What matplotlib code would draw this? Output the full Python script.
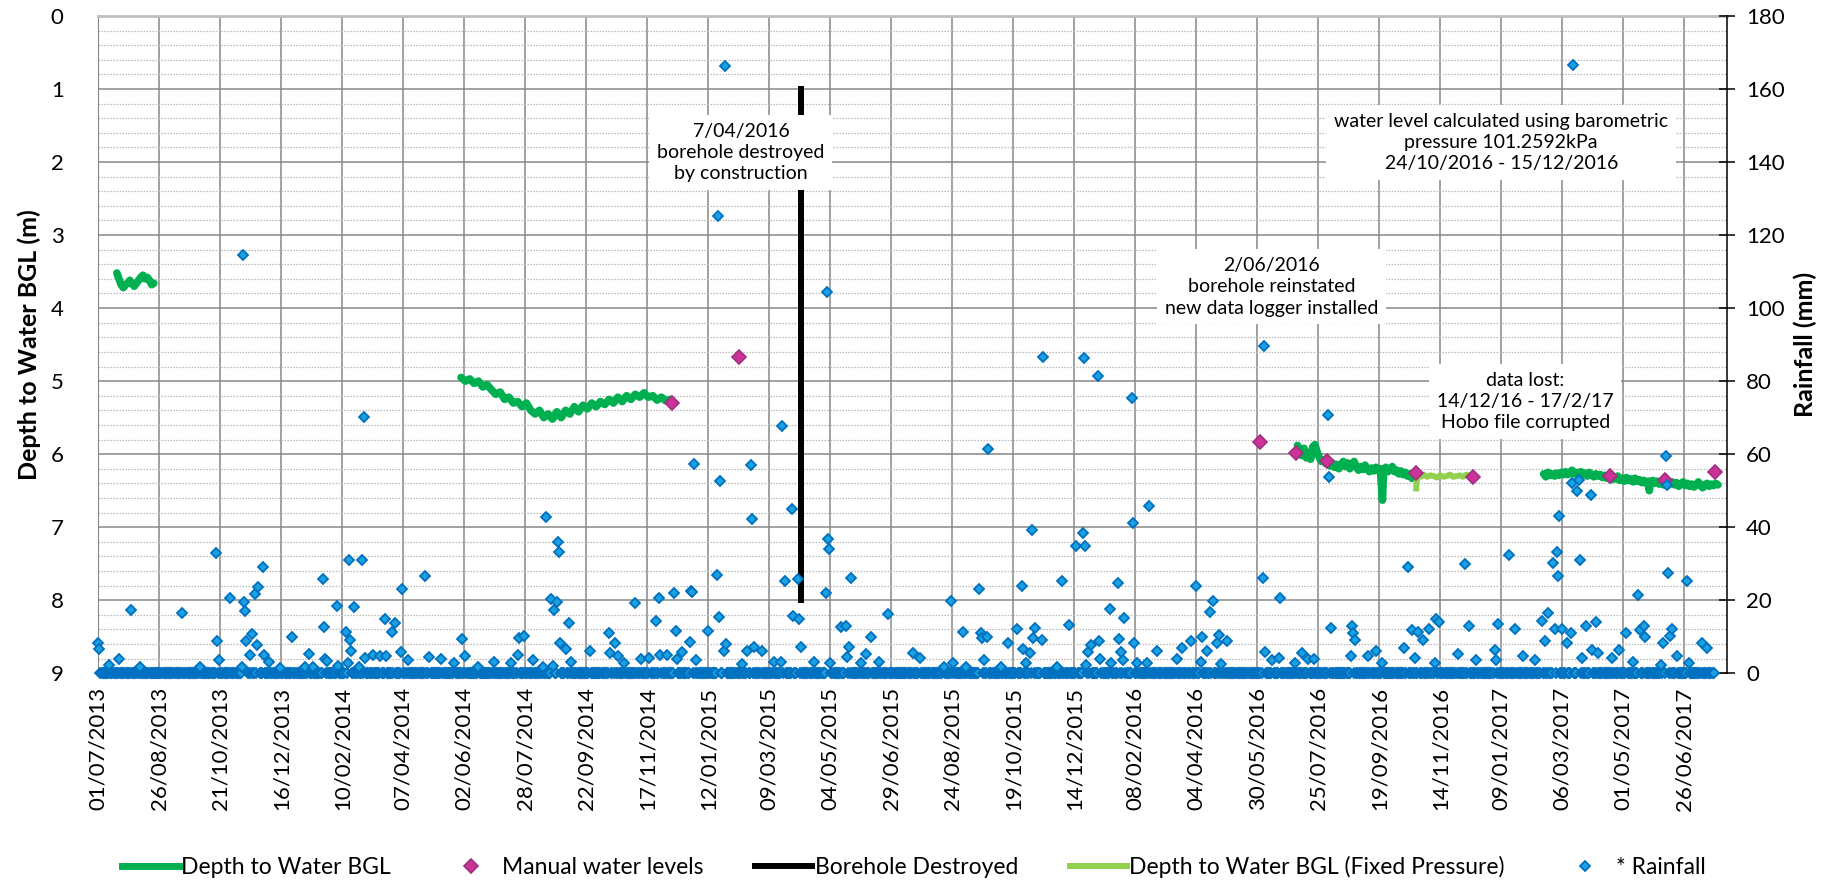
import numpy as np
import matplotlib.pyplot as plt
import matplotlib.dates as mdates
from matplotlib.lines import Line2D
from matplotlib.ticker import MultipleLocator

plt.rcParams['font.family'] = ['Lato', 'DejaVu Sans']

# all days are counted from the first day of the record
start = np.datetime64('2013-07-01')
axis_end_day = 1495
tick_step = 56
last_tick_day = 1456

# daily rainfall (mm); days not listed here were dry
rain_last_day = 1483
rain_wet_day = [
    0, 1, 10, 19, 30, 38, 77, 93, 108, 109, 111, 121, 132, 133, 134, 135, 136,
    139, 141, 144, 146, 147, 151, 152, 157, 167, 178, 190, 193, 197, 206, 207,
    208, 210, 219, 220, 227, 229, 230, 231, 232, 235, 239, 242, 244, 245, 252,
    259, 263, 264, 270, 272, 278, 279, 284, 300, 304, 315, 327, 334, 337, 349,
    363, 379, 385, 386, 391, 399, 408, 411, 416, 417, 418, 421, 422, 423, 424,
    429, 432, 434, 451, 469, 470, 474, 477, 483, 493, 498, 506, 512, 515, 516,
    522, 529, 530, 531, 536, 543, 544, 545, 547, 549, 560, 568, 569, 570, 571,
    574, 575, 576, 591, 596, 599, 600, 602, 609, 620, 627, 628, 630, 637, 638,
    642, 643, 645, 657, 668, 669, 670, 671, 672, 682, 686, 687, 689, 691, 700,
    705, 709, 717, 725, 748, 754, 776, 783, 785, 794, 797, 809, 810, 811, 813,
    816, 817, 829, 835, 843, 848, 849, 852, 855, 857, 858, 860, 866, 867, 880,
    885, 891, 898, 904, 905, 906, 907, 909, 911, 918, 919, 920, 929, 930, 936,
    937, 939, 941, 942, 949, 950, 951, 954, 963, 965, 972, 990, 995, 1003,
    1008, 1012, 1013, 1018, 1021, 1023, 1027, 1029, 1031, 1036, 1069, 1070,
    1071, 1078, 1084, 1085, 1099, 1105, 1111, 1116, 1129, 1130, 1132, 1150,
    1151, 1152, 1154, 1166, 1173, 1179, 1199, 1202, 1206, 1209, 1212, 1216,
    1222, 1227, 1228, 1231, 1248, 1255, 1258, 1265, 1282, 1283, 1285, 1295,
    1301, 1308, 1319, 1325, 1328, 1331, 1336, 1337, 1339, 1340, 1341, 1344,
    1348, 1352, 1353, 1354, 1358, 1359, 1360, 1362, 1366, 1370, 1371, 1375,
    1377, 1390, 1396, 1403, 1409, 1414, 1415, 1419, 1420, 1435, 1437, 1439,
    1440, 1441, 1443, 1445, 1449, 1459, 1460, 1472, 1477,
]
rain_wet_mm = [
    8.4, 6.6, 2.3, 3.9, 17.3, 1.6, 16.4, 1.6, 32.9, 8.7, 3.6, 20.5, 1.8, 114.6, 19.5, 17.1, 8.9,
    4.9, 10.7, 21.6, 7.8, 23.7, 29.0, 5.1, 3.0, 1.4, 9.9, 1.8, 5.2, 1.8, 25.9, 12.7,
    3.9, 3.3, 18.3, 2.1, 11.4, 2.7, 31.1, 9.0, 6.2, 18.1, 1.8, 31.1, 70.2, 4.1, 4.9,
    4.6, 14.9, 4.6, 11.2, 13.7, 5.9, 23.1, 3.6, 26.7, 4.4, 3.9, 2.7, 9.4, 4.6, 1.8,
    3.2, 2.7, 5.0, 9.6, 10.2, 3.7, 1.8, 42.9, 20.3, 2.0, 17.2, 19.6, 35.9, 33.2, 8.2,
    6.6, 13.7, 3.0, 6.1, 11.0, 5.5, 8.2, 4.6, 2.9, 19.2, 3.9, 4.1, 14.4, 20.5, 5.0,
    5.0, 21.9, 11.7, 3.8, 5.8, 8.5, 22.6, 22.2, 57.3, 3.5, 11.7, 26.9, 125.3, 15.3, 52.7,
    6.1, 166.2, 8.0, 2.6, 6.2, 57.1, 42.2, 7.3, 6.1, 3.0, 3.0, 67.8, 25.3, 45.0, 15.7,
    25.8, 14.9, 7.1, 3.0, 21.9, 104.3, 36.7, 34.0, 2.7, 12.6, 13.0, 4.4, 7.3, 26.0, 2.9,
    5.3, 10.0, 3.0, 16.3, 5.5, 4.3, 1.8, 19.8, 2.7, 11.4, 1.8, 23.1, 11.1, 9.6, 3.7,
    9.9, 61.4, 1.8, 8.4, 12.1, 23.9, 6.6, 2.7, 5.5, 39.3, 9.6, 12.3, 9.1, 86.6, 1.8,
    25.3, 13.1, 34.9, 38.4, 86.3, 34.9, 2.3, 5.7, 7.8, 81.5, 8.9, 3.8, 17.5, 2.7, 24.7,
    9.3, 5.9, 3.7, 15.1, 75.3, 41.1, 8.4, 2.9, 2.9, 45.7, 6.1, 3.9, 6.8, 8.7,
    23.9, 3.0, 10.0, 6.1, 16.7, 19.8, 8.4, 10.5, 2.5, 8.9, 26.2, 89.7,
    5.7, 3.5, 4.1, 20.5, 2.7, 5.5, 3.8, 3.8, 70.8, 53.7, 12.3, 4.6,
    13.0, 11.1, 9.1, 4.6, 6.2, 2.7, 7.0, 29.2, 11.9, 4.1, 11.4, 9.0,
    12.1, 2.7, 14.8, 14.0, 5.2, 29.9, 13.0, 3.5, 6.4, 3.7, 13.5, 32.4,
    12.1, 4.6, 3.5, 14.2, 8.7, 16.4, 30.1, 12.1, 33.1, 26.7, 43.1, 12.1,
    8.4, 11.1, 52.1, 166.5, 49.8, 53.0, 31.1, 4.1, 13.0, 48.9, 6.4, 14.0,
    5.5, 4.1, 6.4, 11.0, 3.2, 21.3, 11.9, 13.0, 10.0, 2.3, 8.4, 59.4,
    51.6, 27.4, 10.2, 12.1, 4.6, 25.3, 2.9, 8.4, 6.8,
]

# logger depth to water (m below ground level)
logger1_day = [17, 19, 21, 23, 25, 27, 29, 31, 33, 35, 37, 39, 41, 43, 45, 47, 49, 51]
logger1_depth = [3.52, 3.60, 3.68, 3.72, 3.68, 3.66, 3.62, 3.67, 3.70, 3.66, 3.62, 3.58,
                 3.55, 3.60, 3.58, 3.62, 3.68, 3.66]

logger2_day = [333, 337, 341, 345, 349, 353, 357, 361, 365, 369, 373, 377, 381, 385, 389,
               393, 397, 401, 405, 409, 413, 417, 421, 425, 429, 433, 437, 441, 445, 449,
               453, 457, 461, 465, 469, 473, 477, 481, 485, 489, 493, 497, 501, 505, 509,
               513, 517, 521, 525, 527]
logger2_depth = [4.95, 5.00, 4.97, 5.03, 5.00, 5.08, 5.05, 5.12, 5.18, 5.15, 5.25, 5.22, 5.30,
                 5.28, 5.35, 5.30, 5.40, 5.45, 5.40, 5.50, 5.45, 5.52, 5.42, 5.50, 5.40, 5.45,
                 5.35, 5.42, 5.33, 5.38, 5.30, 5.35, 5.28, 5.32, 5.25, 5.30, 5.22, 5.28, 5.20,
                 5.25, 5.18, 5.22, 5.16, 5.22, 5.20, 5.26, 5.22, 5.27, 5.25, 5.28]

logger3_day = [1101, 1103, 1105, 1107, 1109, 1111, 1113, 1115, 1117, 1119, 1121, 1123, 1125,
               1127, 1129, 1131, 1133, 1135, 1137, 1139, 1141, 1143, 1145, 1147, 1149, 1151,
               1153, 1155, 1157, 1159, 1161, 1163, 1165, 1167, 1169, 1171, 1173, 1175, 1177,
               1179, 1180, 1182, 1184, 1186, 1188, 1190, 1192, 1194, 1196, 1198, 1200, 1202,
               1204, 1206, 1208]
logger3_depth = [5.88, 5.95, 6.02, 5.92, 6.05, 5.98, 6.07, 5.90, 5.87, 5.97, 6.05, 6.10, 6.08,
                 6.13, 6.10, 6.16, 6.12, 6.18, 6.14, 6.20, 6.15, 6.10, 6.17, 6.12, 6.20, 6.14,
                 6.10, 6.18, 6.22, 6.17, 6.21, 6.15, 6.20, 6.24, 6.19, 6.23, 6.18, 6.22, 6.20,
                 6.63, 6.22, 6.18, 6.24, 6.20, 6.17, 6.24, 6.22, 6.27, 6.23, 6.28, 6.25, 6.30,
                 6.27, 6.33, 6.29]

logger4_day = [1327, 1329, 1331, 1333, 1335, 1337, 1339, 1341, 1343, 1345, 1347, 1349, 1351,
               1353, 1355, 1357, 1359, 1361, 1363, 1365, 1367, 1369, 1371, 1373, 1375, 1377,
               1379, 1381, 1383, 1385, 1387, 1389, 1391, 1393, 1395, 1397, 1399, 1401, 1403,
               1405, 1407, 1409, 1411, 1413, 1415, 1417, 1419, 1421, 1423, 1424, 1425, 1427,
               1429, 1431, 1433, 1435, 1437, 1439, 1441, 1443, 1445, 1447, 1449, 1451, 1453,
               1455, 1457, 1459, 1461, 1463, 1465, 1467, 1469, 1471, 1473, 1475, 1477, 1479,
               1481, 1483, 1485, 1487]
logger4_depth = [6.27, 6.31, 6.25, 6.29, 6.27, 6.30, 6.26, 6.29, 6.25, 6.28, 6.24, 6.28, 6.26,
                 6.22, 6.27, 6.25, 6.29, 6.24, 6.28, 6.26, 6.30, 6.25, 6.28, 6.31, 6.27, 6.30,
                 6.28, 6.32, 6.29, 6.33, 6.30, 6.35, 6.31, 6.34, 6.30, 6.36, 6.33, 6.37, 6.32,
                 6.36, 6.34, 6.38, 6.33, 6.37, 6.35, 6.39, 6.36, 6.40, 6.37, 6.50, 6.38, 6.36,
                 6.40, 6.37, 6.41, 6.38, 6.42, 6.39, 6.43, 6.40, 6.38, 6.42, 6.39, 6.44, 6.41,
                 6.38, 6.43, 6.40, 6.44, 6.41, 6.45, 6.42, 6.38, 6.43, 6.46, 6.42, 6.40, 6.44,
                 6.41, 6.43, 6.40, 6.42]

# logger record recomputed with a fixed barometric pressure
fixed_day = [1210, 1211, 1214, 1217, 1220, 1223, 1226, 1229, 1232, 1235, 1238, 1241, 1244,
             1247, 1250, 1253, 1256, 1259, 1262]
fixed_depth = [6.47, 6.29, 6.31, 6.28, 6.31, 6.29, 6.30, 6.32, 6.29, 6.31, 6.30, 6.28, 6.31,
               6.30, 6.29, 6.31, 6.28, 6.30, 6.29]

manual_day = [527, 588, 1067, 1100, 1128, 1210, 1262, 1388, 1438, 1484]
manual_depth = [5.30, 4.67, 5.84, 5.98, 6.10, 6.26, 6.31, 6.30, 6.35, 6.25]

destroyed_day = 645
destroyed_depth = [1.0, 8.0]

notes = [
    (590, 1.87, '7/04/2016\nborehole destroyed\nby construction'),
    (1288, 1.73, 'water level calculated using barometric\npressure 101.2592kPa\n24/10/2016 - 15/12/2016'),
    (1077, 3.71, '2/06/2016\nborehole reinstated\nnew data logger installed'),
    (1310, 5.28, 'data lost:\n14/12/16 - 17/2/17\nHobo file corrupted'),
]

GREEN = '#00B050'
LIGHT_GREEN = '#92D050'
MAGENTA = '#CC3399'
MAGENTA_EDGE = '#A0307E'
RAIN_FILL = '#1BA1E2'
RAIN_EDGE = '#0070C0'


def to_num(days):
    d = start + np.asarray(days, dtype=int).astype('timedelta64[D]')
    return mdates.date2num(d)


fig = plt.figure(figsize=(18.29, 8.81), dpi=100)
ax = fig.add_axes([0.05375, 0.2358, 0.8903, 0.7461])
ax2 = ax.twinx()

# depth axis (left, inverted)
ax.set_ylim(9, 0)
ax.set_yticks(range(10))
ax.yaxis.set_minor_locator(MultipleLocator(0.2))
ax.set_xlim(to_num([0])[0], to_num([axis_end_day])[0])
ax.set_xticks(to_num(np.arange(0, last_tick_day + 1, tick_step)))
ax.xaxis.set_major_formatter(mdates.DateFormatter('%d/%m/%Y'))
ax.grid(which='major', axis='both', color='#878787', lw=1.1)
ax.grid(which='minor', axis='y', color='#B8B8B8', lw=0.9, ls=(0, (1.2, 1.2)))
ax.set_axisbelow(True)
ax.tick_params(axis='y', which='both', length=0, labelsize=16, pad=25)
ax.tick_params(axis='x', length=0, labelsize=16, labelrotation=90, pad=10)
ax.set_ylabel('Depth to Water BGL (m)', fontsize=18, fontweight='bold', labelpad=7)
for side in ('left', 'bottom'):
    ax.spines[side].set_color('#878787')
ax.spines['top'].set_color('#BFBFBF')
ax.spines['top'].set_linewidth(2)
ax.spines['right'].set_visible(False)

# rainfall axis (right)
ax2.set_ylim(0, 180)
ax2.set_yticks(range(0, 181, 20))
ax2.tick_params(axis='y', direction='inout', length=12, width=1.1, labelsize=16, pad=8)
ax2.set_ylabel('Rainfall (mm)', fontsize=18, fontweight='bold', labelpad=6)
for side in ('left', 'top', 'bottom'):
    ax2.spines[side].set_visible(False)
ax2.spines['right'].set_color('black')
ax2.spines['right'].set_linewidth(1.1)

# groundwater levels
for d, z in [(logger1_day, logger1_depth), (logger2_day, logger2_depth),
             (logger3_day, logger3_depth), (logger4_day, logger4_depth)]:
    ax.plot(to_num(d), z, color=GREEN, lw=5.5, solid_joinstyle='round',
            solid_capstyle='round', zorder=3)
ax.plot(to_num(fixed_day), fixed_depth, color=LIGHT_GREEN, lw=4.3, zorder=3)
ax.plot(to_num([destroyed_day, destroyed_day]), destroyed_depth, color='black', lw=4.3, zorder=3)
ax.plot(to_num(manual_day), manual_depth, ls='none', marker='D', ms=7.5,
        mfc=MAGENTA, mec=MAGENTA_EDGE, mew=1.2, zorder=4)

# rainfall, dry days plotted at zero
all_days = np.arange(0, rain_last_day + 1)
dry_days = np.setdiff1d(all_days, rain_wet_day)
rain_days = np.concatenate([dry_days, rain_wet_day])
rain_mm = np.concatenate([np.zeros(len(dry_days)), rain_wet_mm])
ax2.plot(to_num(rain_days), rain_mm, ls='none', marker='D', ms=5.4,
         mfc=RAIN_FILL, mec=RAIN_EDGE, mew=1.3, clip_on=False, zorder=5)

# notes
for d, z, txt in notes:
    ax2.text(to_num([d])[0], z, txt, transform=ax.transData, ha='center', va='center',
             fontsize=14, linespacing=1.3, zorder=10,
             bbox=dict(boxstyle='square,pad=0.4', fc='white', ec='none'))

handles = [
    Line2D([], [], color=GREEN, lw=5),
    Line2D([], [], ls='none', marker='D', ms=7.5, mfc=MAGENTA, mec=MAGENTA_EDGE, mew=1.2),
    Line2D([], [], color='black', lw=4.3),
    Line2D([], [], color=LIGHT_GREEN, lw=4.3),
    Line2D([], [], ls='none', marker='D', ms=5.4, mfc=RAIN_FILL, mec=RAIN_EDGE, mew=1.3),
]
labels = ['Depth to Water BGL', 'Manual water levels', 'Borehole Destroyed',
          'Depth to Water BGL (Fixed Pressure)', '* Rainfall']
fig.legend(handles, labels, loc='center', bbox_to_anchor=(0.4995, 0.016), ncol=5,
           frameon=False, fontsize=16.5, handlelength=2.5, handletextpad=0.1,
           columnspacing=2.25)

fig.savefig('out.png', dpi=100)
